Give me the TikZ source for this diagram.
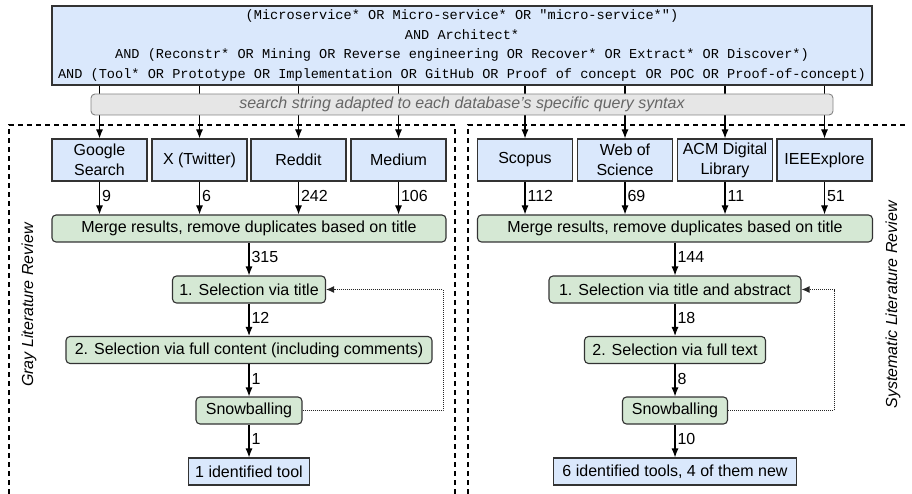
\documentclass[tikz,border=0pt]{standalone}
\usepackage{fontspec}
\setmainfont{Liberation Sans}
\setmonofont{Liberation Mono}
\usetikzlibrary{arrows.meta, positioning, calc}
\definecolor{boxblue}{HTML}{DAE8FC}
\definecolor{boxgreen}{HTML}{D5E8D4}
\definecolor{bargray}{HTML}{E6E6E6}
\definecolor{linegray}{HTML}{333333}
\definecolor{textgray}{HTML}{666666}
\newcommand{\bodysize}{\fontsize{16}{20}\selectfont}

\tikzset{
  srcbox/.style={draw=linegray, fill=boxblue, line width=1.1pt, minimum width=95pt,
                 minimum height=42pt, align=center, inner sep=2pt, font=\bodysize},
  stepbox/.style={draw=linegray, fill=boxgreen, rounded corners=4pt, line width=1.1pt,
                  minimum height=27pt, inner sep=2pt, font=\bodysize},
  resbox/.style={draw=linegray, fill=boxblue, line width=1.1pt, minimum height=27pt,
                 inner sep=2pt, font=\bodysize},
  flow/.style={draw=black, line width=1.1pt, -{Latex[length=9pt,width=7pt]}},
  count/.style={anchor=west, inner sep=2pt, pos=0.45, font=\bodysize},
  loopback/.style={draw=black!85, line width=1pt, dash pattern=on 1pt off 1pt,
                   -{Latex[length=8pt,width=7pt]}},
  region/.style={draw=black, line width=1.1pt, dash pattern=on 5pt off 4pt},
}

\begin{document}
\begin{tikzpicture}[x=1pt, y=-1pt]
  \useasboundingbox (0,0) rectangle (912,494);

  % ===== Search string =====
  \node[draw=linegray, fill=boxblue, line width=1.1pt, minimum width=820pt, minimum height=79pt,
        align=center, inner sep=0pt, font=\ttfamily\fontsize{13.6}{19.7}\selectfont] (query) at (462,45.5)
        {(Microservice* OR Micro-service* OR "micro-service*")\\
         AND Architect*\\
         AND (Reconstr* OR Mining OR Reverse engineering OR Recover* OR Extract* OR Discover*)\\
         AND (Tool* OR Prototype OR Implementation OR GitHub OR Proof of concept OR POC OR Proof-of-concept)};

  % ===== Review regions =====
  \draw[region] (9,494) -- (9,125) -- (455,125) -- (455,494);
  \draw[region] (468,494) -- (468,125) -- (906,125);
  \node[rotate=90, font=\bodysize\itshape] (glrlabel) at (29,305) {Gray Literature Review};
  \node[rotate=90, font=\bodysize\itshape] (slrlabel) at (893,305) {Systematic Literature Review};

  % ===== Sources =====
  \foreach \i/\x/\name in {1/99.5/{Google\\Search}, 2/199.5/X (Twitter), 3/298.5/Reddit, 4/398.5/Medium} {
    \node[srcbox] (gsrc\i) at (\x,160) {\name};
    \draw[flow] (gsrc\i |- query.south) -- (gsrc\i.north);
  }
  \foreach \i/\x/\name in {1/525/Scopus, 2/625/{Web of\\Science}, 3/725/{ACM Digital\\Library}, 4/824.5/IEEExplore} {
    \node[srcbox] (ssrc\i) at (\x,160) {\name};
    \draw[flow] (ssrc\i |- query.south) -- (ssrc\i.north);
  }

  % Adapted search string bar (drawn over the arrows)
  \node[draw=textgray!80, fill=bargray, rounded corners=4pt, line width=0.9pt, minimum width=742pt,
        minimum height=21pt, inner sep=0pt, text=textgray, font=\bodysize\itshape] (adapt) at (462,104.5)
        {search string adapted to each database's specific query syntax};

  % ===== LEFT SIDE: Gray literature =====
  \node[stepbox, minimum width=394pt] (gmerge) at (249,228.5) {Merge results, remove duplicates based on title};
  \foreach \i/\n in {1/9, 2/6, 3/242, 4/106}
    \draw[flow] (gsrc\i.south) -- (gsrc\i |- gmerge.north) node[count] {\n};

  \node[stepbox, minimum width=153pt] (gsel1) at (249,289.5) {1. Selection via title};
  \node[stepbox, minimum width=366pt] (gsel2) at (249,350) {2. Selection via full content (including comments)};
  \node[stepbox, minimum width=106pt] (gsnow) at (249,410.5) {Snowballing};
  \node[resbox, minimum width=121pt] (gres) at (249,471.5) {1 identified tool};

  \draw[flow] (gmerge) -- (gsel1) node[count] {315};
  \draw[flow] (gsel1) -- (gsel2) node[count] {12};
  \draw[flow] (gsel2) -- (gsnow) node[count] {1};
  \draw[flow] (gsnow) -- (gres) node[count] {1};

  \coordinate (gloop) at (443,410.5);
  \draw[loopback] (gsnow.east) -- (gloop) |- (gsel1.east);

  % ===== RIGHT SIDE: Systematic literature =====
  \node[stepbox, minimum width=395pt] (smerge) at (675,228.5) {Merge results, remove duplicates based on title};
  \foreach \i/\n in {1/112, 2/69, 3/11, 4/51}
    \draw[flow] (ssrc\i.south) -- (ssrc\i |- smerge.north) node[count] {\n};

  \node[stepbox, minimum width=252pt] (ssel1) at (675,289.5) {1. Selection via title and abstract};
  \node[stepbox, minimum width=181pt] (ssel2) at (675,350) {2. Selection via full text};
  \node[stepbox, minimum width=105pt] (ssnow) at (675,410.5) {Snowballing};
  \node[resbox, minimum width=243pt] (sres) at (675,471.5) {6 identified tools, 4 of them new};

  \draw[flow] (smerge) -- (ssel1) node[count] {144};
  \draw[flow] (ssel1) -- (ssel2) node[count] {18};
  \draw[flow] (ssel2) -- (ssnow) node[count] {8};
  \draw[flow] (ssnow) -- (sres) node[count] {10};

  \coordinate (sloop) at (834,410.5);
  \draw[loopback] (ssnow.east) -- (sloop) |- (ssel1.east);
\end{tikzpicture}
\end{document}
